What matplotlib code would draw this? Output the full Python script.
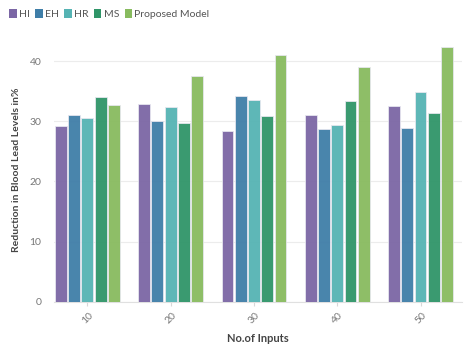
import numpy as np
import matplotlib.pyplot as plt
from matplotlib.patches import Patch

plt.rcParams['font.family'] = ['Lato', 'DejaVu Sans']

inputs = ['10', '20', '30', '40', '50']
models = ['HI', 'EH', 'HR', 'MS', 'Proposed Model']
HI = [29.2, 32.9, 28.4, 31.1, 32.5]
EH = [31.0, 30.1, 34.2, 28.7, 28.9]
HR = [30.6, 32.4, 33.6, 29.4, 34.8]
MS = [34.1, 29.8, 30.8, 33.4, 31.4]
PM = [32.7, 37.6, 41.0, 39.0, 42.3]
colors = ['#7b66a5', '#3f7ea8', '#55b3b3', '#2f9568', '#88bb5f']

series = [HI, EH, HR, MS, PM]

fig = plt.figure(figsize=(4.74, 3.53), dpi=100)
ax = fig.add_axes([0.114, 0.145, 0.861, 0.75])

x = np.arange(len(inputs))
step = 0.159
for i, vals in enumerate(series):
    ax.bar(x + (i - 2) * step, vals, width=0.142, color=colors[i], alpha=0.95,
           edgecolor='#e8e8f0', linewidth=0.6, zorder=3)

ax.set_xlim(-0.4, 4.5)
ax.set_ylim(0, 44)
ax.set_yticks([0, 10, 20, 30, 40])
ax.set_xticks(x)
ax.set_xticklabels(inputs, rotation=45, ha='center')
ax.grid(axis='y', color='#ececec', linewidth=0.8, zorder=0)
for s in ['top', 'right', 'left']:
    ax.spines[s].set_visible(False)
ax.spines['bottom'].set_color('#e0e0e0')
ax.tick_params(axis='y', length=0, labelsize=7.5, colors='#777777', pad=9)
ax.tick_params(axis='x', length=3, color='#d8d8d8', labelsize=7.5, colors='#777777')
ax.set_xlabel('No.of Inputs', fontsize=8, fontweight='bold', color='#444444', labelpad=5)
ax.set_ylabel('Reduction in Blood Lead Levels in%', fontsize=7.5, fontweight='bold',
              color='#444444', labelpad=6)

handles = [Patch(facecolor=c, edgecolor='none') for c in colors]
fig.legend(handles, models, loc='upper left', bbox_to_anchor=(0.0, 1.0), ncol=5,
           frameon=False, fontsize=7.5, handlelength=0.7, handleheight=0.9,
           handletextpad=0.25, columnspacing=0.5, labelcolor='#555555')

fig.savefig('out.png', dpi=100)
